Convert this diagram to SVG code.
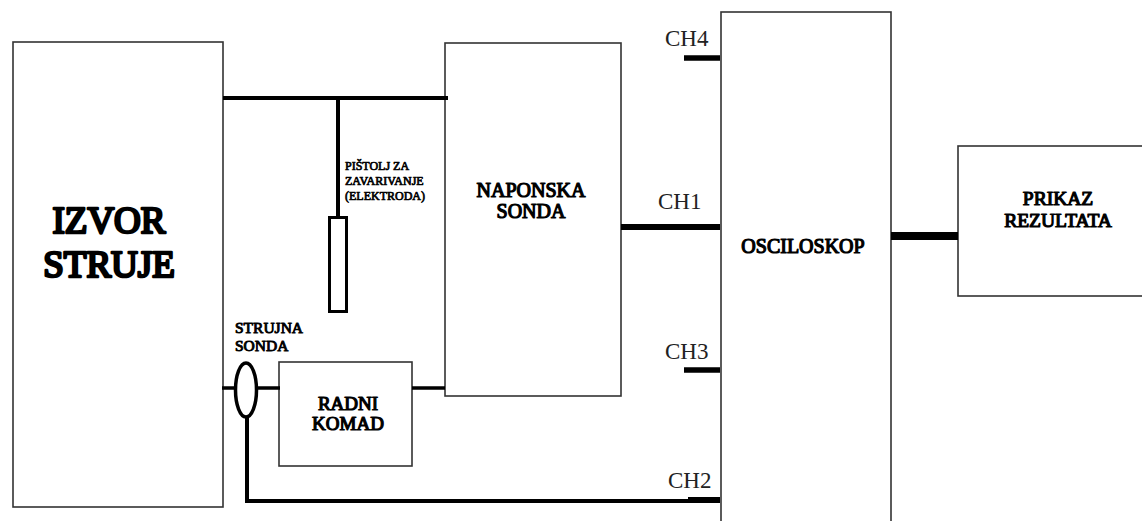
<svg xmlns="http://www.w3.org/2000/svg" width="1142" height="521" viewBox="0 0 1142 521">
<style>
.box{fill:#fff;stroke:#333;stroke-width:1.6}
.w{fill:none;stroke:#000;stroke-linecap:butt}
.b{font-family:"Liberation Serif","Times New Roman",serif;font-weight:normal;fill:#000;stroke:#000;stroke-width:1.2;stroke-linejoin:round}
.big{stroke-width:2.6}
.sm{stroke-width:0.7}
.md{stroke-width:0.95}
.r{font-family:"Liberation Serif","Times New Roman",serif;fill:#222}
</style>
<rect width="1142" height="521" fill="#fff"/>
<g id="izvor-struje">
<rect class="box" x="13" y="42" width="210" height="465"/>
<text class="b big" font-size="37" text-anchor="middle" x="109" y="233">IZVOR</text>
<text class="b big" font-size="37" text-anchor="middle" x="109" y="277">STRUJE</text>
</g>
<g id="naponska-sonda">
<rect class="box" x="445" y="43" width="176" height="353"/>
<text class="b" font-size="20" text-anchor="middle" x="531" y="197">NAPONSKA</text>
<text class="b" font-size="20" text-anchor="middle" x="531" y="218">SONDA</text>
</g>
<g id="radni-komad">
<rect class="box" x="279" y="362" width="133" height="104"/>
<text class="b" font-size="19" text-anchor="middle" x="348" y="410">RADNI</text>
<text class="b" font-size="19" text-anchor="middle" x="348" y="430">KOMAD</text>
</g>
<g id="osciloskop">
<rect class="box" x="721" y="12" width="170" height="520"/>
<text class="b" font-size="20" text-anchor="middle" x="803" y="253">OSCILOSKOP</text>
</g>
<g id="prikaz-rezultata">
<rect class="box" x="958" y="146" width="190" height="150"/>
<text class="b" font-size="19.5" text-anchor="middle" x="1058" y="205">PRIKAZ</text>
<text class="b" font-size="19.5" text-anchor="middle" x="1058" y="227">REZULTATA</text>
</g>
<g id="pistolj">
<rect x="329.5" y="217.5" width="17" height="94" fill="#fff" stroke="#000" stroke-width="3"/>
<text class="b sm" font-size="12" x="345" y="170">PIŠTOLJ ZA</text>
<text class="b sm" font-size="12" x="345" y="185">ZAVARIVANJE</text>
<text class="b sm" font-size="12" x="345" y="200">(ELEKTRODA)</text>
</g>
<g id="strujna-sonda">
<text class="b md" font-size="15.5" x="235" y="333">STRUJNA</text>
<text class="b md" font-size="15.5" x="235" y="351">SONDA</text>
</g>
<g id="connectors">
<path class="w" stroke-width="4" d="M223 98H448M338 98V217"/>
<path class="w" stroke-width="3.5" d="M222 388H280M412 388H445"/>
<path class="w" stroke-width="4" d="M247 416V501H720"/>
<path class="w" stroke-width="6" d="M688 500H720"/>
<ellipse cx="246" cy="390" rx="10.5" ry="27" fill="#fff" stroke="#000" stroke-width="3.5"/>
<path class="w" stroke-width="6" d="M621 227H720"/>
<path class="w" stroke-width="5.5" stroke-linecap="round" d="M684 58H720M684 370H720"/>
<path class="w" stroke-width="8" d="M891 236H958"/>
</g>
<g id="channel-labels">
<text class="r" font-size="23" x="665" y="46">CH4</text>
<text class="r" font-size="23" x="658" y="209">CH1</text>
<text class="r" font-size="23" x="665" y="359">CH3</text>
<text class="r" font-size="23" x="668" y="488">CH2</text>
</g>
</svg>
